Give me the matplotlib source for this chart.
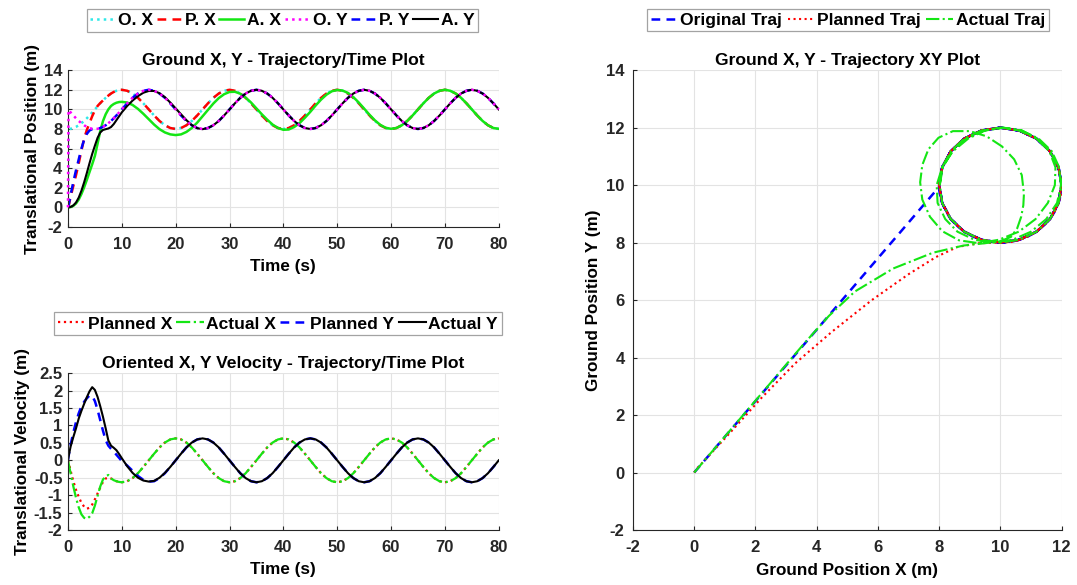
import matplotlib
matplotlib.use('Agg')
import matplotlib.pyplot as plt
from matplotlib.ticker import FormatStrFormatter, MultipleLocator

plt.rcParams['font.family'] = ['Liberation Sans', 'DejaVu Sans']
plt.rcParams['font.weight'] = 'bold'
plt.rcParams['axes.titleweight'] = 'bold'
plt.rcParams['axes.labelweight'] = 'bold'
plt.rcParams['axes.unicode_minus'] = False

# time samples (s): fine steps for the first 10 s, then 1 s
time_s = [0, 0.1,
          0.5, 1, 1.5, 2, 2.5, 3, 3.5, 4, 4.5, 5,
          5.5, 6, 6.5, 7, 7.5, 8, 8.5, 9, 9.5, 10] + list(range(11, 81))

# ground positions (m)
orig_x = [0, 8.0,
          8.02, 8.10, 8.22, 8.38, 8.59, 8.82, 9.09, 9.38, 9.69, 10.0,
          10.31, 10.62, 10.91, 11.18, 11.41, 11.62, 11.78, 11.90, 11.98, 12.0,
          11.90, 11.62, 11.18, 10.62, 10.0, 9.38, 8.82, 8.38, 8.10, 8.0,
          8.10, 8.38, 8.82, 9.38, 10.0, 10.62, 11.18, 11.62, 11.90, 12.0,
          11.90, 11.62, 11.18, 10.62, 10.0, 9.38, 8.82, 8.38, 8.10, 8.0,
          8.10, 8.38, 8.82, 9.38, 10.0, 10.62, 11.18, 11.62, 11.90, 12.0,
          11.90, 11.62, 11.18, 10.62, 10.0, 9.38, 8.82, 8.38, 8.10, 8.0,
          8.10, 8.38, 8.82, 9.38, 10.0, 10.62, 11.18, 11.62, 11.90, 12.0,
          11.90, 11.62, 11.18, 10.62, 10.0, 9.38, 8.82, 8.38, 8.10, 8.0]
orig_y = [0, 9.94,
          9.69, 9.38, 9.09, 8.82, 8.59, 8.38, 8.22, 8.10, 8.02, 8.0,
          8.02, 8.10, 8.22, 8.38, 8.59, 8.82, 9.09, 9.38, 9.69, 10.0,
          10.62, 11.18, 11.62, 11.90, 12.0, 11.90, 11.62, 11.18, 10.62, 10.0,
          9.38, 8.82, 8.38, 8.10, 8.0, 8.10, 8.38, 8.82, 9.38, 10.0,
          10.62, 11.18, 11.62, 11.90, 12.0, 11.90, 11.62, 11.18, 10.62, 10.0,
          9.38, 8.82, 8.38, 8.10, 8.0, 8.10, 8.38, 8.82, 9.38, 10.0,
          10.62, 11.18, 11.62, 11.90, 12.0, 11.90, 11.62, 11.18, 10.62, 10.0,
          9.38, 8.82, 8.38, 8.10, 8.0, 8.10, 8.38, 8.82, 9.38, 10.0,
          10.62, 11.18, 11.62, 11.90, 12.0, 11.90, 11.62, 11.18, 10.62, 10.0]
plan_x = [0, 0.1,
          1.1, 2.2, 3.3, 4.5, 5.8, 7.0, 7.9, 8.6, 9.3, 9.9,
          10.35, 10.65, 10.91, 11.18, 11.41, 11.62, 11.78, 11.90, 11.98, 12.0,
          11.90, 11.62, 11.18, 10.62, 10.0, 9.38, 8.82, 8.38, 8.10, 8.0,
          8.10, 8.38, 8.82, 9.38, 10.0, 10.62, 11.18, 11.62, 11.90, 12.0,
          11.90, 11.62, 11.18, 10.62, 10.0, 9.38, 8.82, 8.38, 8.10, 8.0,
          8.10, 8.38, 8.82, 9.38, 10.0, 10.62, 11.18, 11.62, 11.90, 12.0,
          11.90, 11.62, 11.18, 10.62, 10.0, 9.38, 8.82, 8.38, 8.10, 8.0,
          8.10, 8.38, 8.82, 9.38, 10.0, 10.62, 11.18, 11.62, 11.90, 12.0,
          11.90, 11.62, 11.18, 10.62, 10.0, 9.38, 8.82, 8.38, 8.10, 8.0]
plan_y = [0, 0.15,
          1.3, 2.6, 3.8, 4.9, 6.0, 6.9, 7.5, 7.85, 7.98, 8.0,
          8.02, 8.10, 8.22, 8.38, 8.59, 8.82, 9.09, 9.38, 9.69, 10.0,
          10.62, 11.18, 11.62, 11.90, 12.0, 11.90, 11.62, 11.18, 10.62, 10.0,
          9.38, 8.82, 8.38, 8.10, 8.0, 8.10, 8.38, 8.82, 9.38, 10.0,
          10.62, 11.18, 11.62, 11.90, 12.0, 11.90, 11.62, 11.18, 10.62, 10.0,
          9.38, 8.82, 8.38, 8.10, 8.0, 8.10, 8.38, 8.82, 9.38, 10.0,
          10.62, 11.18, 11.62, 11.90, 12.0, 11.90, 11.62, 11.18, 10.62, 10.0,
          9.38, 8.82, 8.38, 8.10, 8.0, 8.10, 8.38, 8.82, 9.38, 10.0,
          10.62, 11.18, 11.62, 11.90, 12.0, 11.90, 11.62, 11.18, 10.62, 10.0]
act_x = [0, 0.0,
         0.04, 0.16, 0.4, 0.8, 1.36, 2.04, 2.8, 3.6, 4.4, 5.25,
         6.5, 7.8, 8.8, 9.5, 10.0, 10.35, 10.55, 10.68, 10.75, 10.77,
         10.7, 10.45, 10.05, 9.55, 9.0, 8.45, 7.98, 7.65, 7.45, 7.38,
         7.45, 7.7, 8.1, 8.65, 9.3, 9.95, 10.6, 11.15, 11.55, 11.78,
         11.8, 11.6, 11.2, 10.7, 10.1, 9.5, 8.95, 8.45, 8.1, 7.92,
         7.95, 8.2, 8.6, 9.15, 9.75, 10.4, 11.0, 11.5, 11.85, 11.98,
         11.92, 11.68, 11.25, 10.7, 10.08, 9.45, 8.88, 8.42, 8.12, 8.02,
         8.1, 8.38, 8.82, 9.38, 10.0, 10.62, 11.18, 11.62, 11.9, 12.0,
         11.9, 11.62, 11.18, 10.62, 10.0, 9.38, 8.82, 8.38, 8.1, 8.02]
act_y = [0, 0.0,
         0.05, 0.2, 0.5, 1.0, 1.7, 2.55, 3.5, 4.5, 5.45, 6.3,
         7.1, 7.65, 7.9, 7.98, 8.05, 8.2, 8.5, 8.9, 9.3, 9.7,
         10.35, 10.9, 11.35, 11.7, 11.88, 11.88, 11.65, 11.25, 10.7, 10.1,
         9.5, 8.9, 8.4, 8.08, 7.98, 8.1, 8.38, 8.82, 9.38, 10.0,
         10.62, 11.18, 11.62, 11.9, 12.0, 11.9, 11.62, 11.18, 10.62, 10.0,
         9.38, 8.82, 8.38, 8.1, 8.0, 8.1, 8.38, 8.82, 9.38, 10.0,
         10.62, 11.18, 11.62, 11.9, 12.0, 11.9, 11.62, 11.18, 10.62, 10.0,
         9.38, 8.82, 8.38, 8.1, 8.0, 8.1, 8.38, 8.82, 9.38, 10.0,
         10.62, 11.18, 11.62, 11.9, 12.0, 11.9, 11.62, 11.18, 10.62, 10.0]

# oriented velocities (m/s)
plan_vx = [0, -0.06,
           -0.3, -0.6, -0.85, -1.05, -1.22, -1.33, -1.39, -1.36, -1.27, -1.12,
           -0.95, -0.78, -0.62, -0.52, -0.5, -0.52, -0.56, -0.6, -0.62, -0.63,
           -0.6, -0.51, -0.37, -0.19, 0.0, 0.19, 0.37, 0.51, 0.6, 0.63,
           0.6, 0.51, 0.37, 0.19, 0.0, -0.19, -0.37, -0.51, -0.6, -0.63,
           -0.6, -0.51, -0.37, -0.19, 0.0, 0.19, 0.37, 0.51, 0.6, 0.63,
           0.6, 0.51, 0.37, 0.19, 0.0, -0.19, -0.37, -0.51, -0.6, -0.63,
           -0.6, -0.51, -0.37, -0.19, 0.0, 0.19, 0.37, 0.51, 0.6, 0.63,
           0.6, 0.51, 0.37, 0.19, 0.0, -0.19, -0.37, -0.51, -0.6, -0.63,
           -0.6, -0.51, -0.37, -0.19, 0.0, 0.19, 0.37, 0.51, 0.6, 0.63]
act_vx = [0, -0.07,
          -0.38, -0.75, -1.08, -1.35, -1.55, -1.65, -1.68, -1.62, -1.52, -1.3,
          -1.02, -0.75, -0.55, -0.46, -0.42, -0.52, -0.57, -0.6, -0.62, -0.63,
          -0.6, -0.51, -0.37, -0.19, 0.0, 0.19, 0.37, 0.51, 0.6, 0.63,
          0.6, 0.51, 0.37, 0.19, 0.0, -0.19, -0.37, -0.51, -0.6, -0.63,
          -0.6, -0.51, -0.37, -0.19, 0.0, 0.19, 0.37, 0.51, 0.6, 0.63,
          0.6, 0.51, 0.37, 0.19, 0.0, -0.19, -0.37, -0.51, -0.6, -0.63,
          -0.6, -0.51, -0.37, -0.19, 0.0, 0.19, 0.37, 0.51, 0.6, 0.63,
          0.6, 0.51, 0.37, 0.19, 0.0, -0.19, -0.37, -0.51, -0.6, -0.63,
          -0.6, -0.51, -0.37, -0.19, 0.0, 0.19, 0.37, 0.51, 0.6, 0.63]
plan_vy = [0, 0.12,
           0.45, 0.8, 1.1, 1.35, 1.55, 1.68, 1.78, 1.86, 1.85, 1.7,
           1.45, 1.15, 0.85, 0.58, 0.42, 0.33, 0.25, 0.16, 0.07, -0.02,
           -0.15, -0.3, -0.45, -0.56, -0.61, -0.6, -0.51, -0.37, -0.19, 0.0,
           0.19, 0.37, 0.51, 0.6, 0.63, 0.6, 0.51, 0.37, 0.19, 0.0,
           -0.19, -0.37, -0.51, -0.6, -0.63, -0.6, -0.51, -0.37, -0.19, 0.0,
           0.19, 0.37, 0.51, 0.6, 0.63, 0.6, 0.51, 0.37, 0.19, 0.0,
           -0.19, -0.37, -0.51, -0.6, -0.63, -0.6, -0.51, -0.37, -0.19, 0.0,
           0.19, 0.37, 0.51, 0.6, 0.63, 0.6, 0.51, 0.37, 0.19, 0.0,
           -0.19, -0.37, -0.51, -0.6, -0.63, -0.6, -0.51, -0.37, -0.19, 0.0]
act_vy = [0, 0.1,
          0.4, 0.67, 0.92, 1.2, 1.42, 1.62, 1.81, 1.98, 2.1, 2.02,
          1.82, 1.55, 1.25, 0.92, 0.57, 0.42, 0.36, 0.29, 0.18, 0.06,
          -0.17, -0.36, -0.5, -0.58, -0.61, -0.59, -0.5, -0.36, -0.19, 0.0,
          0.19, 0.37, 0.51, 0.6, 0.63, 0.6, 0.51, 0.37, 0.19, 0.0,
          -0.19, -0.37, -0.51, -0.6, -0.63, -0.6, -0.51, -0.37, -0.19, 0.0,
          0.19, 0.37, 0.51, 0.6, 0.63, 0.6, 0.51, 0.37, 0.19, 0.0,
          -0.19, -0.37, -0.51, -0.6, -0.63, -0.6, -0.51, -0.37, -0.19, 0.0,
          0.19, 0.37, 0.51, 0.6, 0.63, 0.6, 0.51, 0.37, 0.19, 0.0,
          -0.19, -0.37, -0.51, -0.6, -0.63, -0.6, -0.51, -0.37, -0.19, 0.0]

# MATLAB-ish colours
CYAN = '#2ee8e8'
RED = '#ff0000'
GREEN = '#14e614'
MAGENTA = '#ff00ff'
BLUE = '#0000ff'
BLACK = '#000000'
AXIS_GREY = '#262626'

TITLE_FS = 12.6
LABEL_FS = 12.3
TICK_FS = 12
LEGEND_FS = 12.6


def style_axes(ax):
    """Light grid, left/bottom axis only, inward ticks"""
    ax.grid(True, color='#e3e3e3', linewidth=0.8)
    ax.set_axisbelow(True)
    for side in ['top', 'right']:
        ax.spines[side].set_visible(False)
    for side in ['left', 'bottom']:
        ax.spines[side].set_color(AXIS_GREY)
        ax.spines[side].set_linewidth(0.8)
    ax.tick_params(direction='in', length=3, width=0.8, labelsize=TICK_FS,
                   colors=AXIS_GREY, labelcolor=AXIS_GREY)
    ax.tick_params(axis='x', pad=7)
    ax.tick_params(axis='y', pad=4)


def add_legend(ax, x, y, ncol, colsp=0.3, handlelen=1.55):
    leg = ax.legend(loc='center', bbox_to_anchor=(x, y),
                    bbox_transform=ax.figure.transFigure, ncol=ncol,
                    fontsize=LEGEND_FS, frameon=True, fancybox=False,
                    handlelength=handlelen, handletextpad=0.15,
                    columnspacing=colsp, borderpad=0.22, borderaxespad=0)
    leg.get_frame().set_edgecolor('#8c8c8c')
    leg.get_frame().set_linewidth(0.9)
    return leg


fig = plt.figure(figsize=(10.77, 5.85), dpi=100)
ax1 = fig.add_axes([0.0631, 0.612, 0.400, 0.268])
ax2 = fig.add_axes([0.0631, 0.094, 0.400, 0.268])
ax3 = fig.add_axes([0.5877, 0.094, 0.398, 0.786])

# --- ground position vs time
ax1.plot(time_s, orig_x, ':', color=CYAN, lw=1.8, label='O. X')
ax1.plot(time_s, plan_x, '--', color=RED, lw=1.8, dashes=(3.5, 2.5), label='P. X')
ax1.plot(time_s, act_x, '-', color=GREEN, lw=1.8, label='A. X')
ax1.plot(time_s, orig_y, ':', color=MAGENTA, lw=1.8, label='O. Y',
         clip_on=False, zorder=3)
ax1.plot(time_s, plan_y, '--', color=BLUE, lw=1.8, dashes=(3.5, 2.5), label='P. Y')
ax1.plot(time_s, act_y, '-', color=BLACK, lw=1.5, label='A. Y')
ax1.set_xlim(0, 80)
ax1.set_ylim(-2, 14)
ax1.xaxis.set_major_locator(MultipleLocator(10))
ax1.yaxis.set_major_locator(MultipleLocator(2))
style_axes(ax1)
ax1.set_title('Ground X, Y - Trajectory/Time Plot', fontsize=TITLE_FS, pad=4)
ax1.set_xlabel('Time (s)', fontsize=LABEL_FS, labelpad=5)
ax1.set_ylabel('Translational Position (m)', fontsize=LABEL_FS, labelpad=3)
add_legend(ax1, 0.2623, 0.965, 6, colsp=0.2, handlelen=1.45)

# --- oriented velocity vs time
ax2.plot(time_s, plan_vx, ':', color=RED, lw=1.6, label='Planned X')
ax2.plot(time_s, act_vx, '-.', color=GREEN, lw=1.6, label='Actual X')
ax2.plot(time_s, plan_vy, '--', color=BLUE, lw=1.8, dashes=(3.5, 2.5), label='Planned Y')
ax2.plot(time_s, act_vy, '-', color=BLACK, lw=1.5, label='Actual Y')
ax2.set_xlim(0, 80)
ax2.set_ylim(-2, 2.5)
ax2.xaxis.set_major_locator(MultipleLocator(10))
ax2.yaxis.set_major_locator(MultipleLocator(0.5))
ax2.yaxis.set_major_formatter(FormatStrFormatter('%g'))
style_axes(ax2)
ax2.set_title('Oriented X, Y Velocity - Trajectory/Time Plot', fontsize=TITLE_FS, pad=4)
ax2.set_xlabel('Time (s)', fontsize=LABEL_FS, labelpad=5)
ax2.set_ylabel('Translational Velocity (m)', fontsize=LABEL_FS, labelpad=3)
add_legend(ax2, 0.2581, 0.4462, 4, colsp=0.25)

# --- XY trajectory
ax3.plot(orig_x, orig_y, '--', color=BLUE, lw=1.8, dashes=(3.5, 2.5), label='Original Traj')
ax3.plot(plan_x, plan_y, ':', color=RED, lw=1.5, label='Planned Traj')
ax3.plot(act_x, act_y, '-.', color=GREEN, lw=1.5, label='Actual Traj')
ax3.set_xlim(-2, 12)
ax3.set_ylim(-2, 14)
ax3.xaxis.set_major_locator(MultipleLocator(2))
ax3.yaxis.set_major_locator(MultipleLocator(2))
style_axes(ax3)
ax3.tick_params(axis='y', pad=6)
ax3.set_title('Ground X, Y - Trajectory XY Plot', fontsize=TITLE_FS, pad=4)
ax3.set_xlabel('Ground Position X (m)', fontsize=LABEL_FS, labelpad=6)
ax3.set_ylabel('Ground Position Y (m)', fontsize=LABEL_FS, labelpad=4)
add_legend(ax3, 0.7874, 0.9658, 3)

fig.savefig('out.png', dpi=100)
